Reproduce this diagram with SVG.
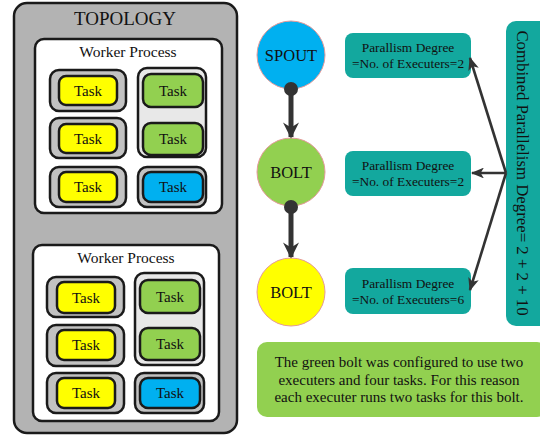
<svg xmlns="http://www.w3.org/2000/svg" width="540" height="437" viewBox="0 0 540 437">
<defs>
<style>
text{font-family:Liberation Serif,DejaVu Serif,serif;fill:#111;}
.topo{fill:#b3b3b3;stroke:#1a1a1a;stroke-width:2.5;}
.wp{fill:#fff;stroke:#1a1a1a;stroke-width:2.5;}
.ex{fill:#c2c2c2;stroke:#1a1a1a;stroke-width:2.5;}
.exg{fill:#e8e8e8;stroke:#1a1a1a;stroke-width:2.5;}
.task{stroke:#1a1a1a;stroke-width:2.5;}
.y{fill:#ffff00;}
.g{fill:#92d050;}
.b{fill:#00b0f0;}
.tt{font-size:15px;text-anchor:middle;}
.teal{fill:#13a89e;}
.pd{font-size:13.4px;text-anchor:middle;}
.circ{stroke:#e49a9a;stroke-width:1;}
.flow{stroke:#333;stroke-width:5;fill:none;}
.par{stroke:#333;stroke-width:2.6;fill:none;}
.wpt{font-size:15.5px;text-anchor:middle;}
.nt{font-size:15px;text-anchor:middle;}
</style>
<marker id="bigArrow" viewBox="0 0 10 10" refX="9" refY="5" markerWidth="3.6" markerHeight="3.2" orient="auto" markerUnits="strokeWidth">
<path d="M0,0 L10,5 L0,10 L3,5 z" fill="#333"/>
</marker>
<marker id="thinArrow" viewBox="0 0 12 10" refX="11" refY="5" markerWidth="5" markerHeight="4.2" orient="auto" markerUnits="strokeWidth">
<path d="M0,0 L12,5 L0,10 L3,5 z" fill="#333"/>
</marker>
</defs>

<g id="topology">
<rect class="topo" x="14" y="3" width="223" height="430" rx="13"/>
<text x="125" y="25" font-size="19" text-anchor="middle">TOPOLOGY</text>
</g>

<g id="worker1">
<rect class="wp" x="35" y="39" width="187" height="174" rx="9"/>
<text class="wpt" x="128" y="57">Worker Process</text>
<g id="w1-ex1"><rect class="ex" x="50" y="70" width="76" height="41" rx="9"/><rect class="task y" x="59" y="76" width="58" height="29" rx="7"/><text class="tt" x="88" y="96">Task</text></g>
<g id="w1-ex2"><rect class="ex" x="50" y="118" width="76" height="40" rx="9"/><rect class="task y" x="59" y="124" width="58" height="29" rx="7"/><text class="tt" x="88" y="144">Task</text></g>
<g id="w1-ex3"><rect class="ex" x="50" y="167" width="76" height="40" rx="9"/><rect class="task y" x="59" y="172" width="58" height="30" rx="7"/><text class="tt" x="88" y="192">Task</text></g>
<g id="w1-ex4"><rect class="exg" x="138" y="68" width="68" height="89" rx="9"/><rect class="task g" x="143" y="74" width="60" height="33" rx="8"/><text class="tt" x="173" y="96">Task</text><rect class="task g" x="143" y="123" width="60" height="32" rx="8"/><text class="tt" x="173" y="144">Task</text></g>
<g id="w1-ex5"><rect class="ex" x="138" y="167" width="68" height="40" rx="9"/><rect class="task b" x="143" y="172" width="60" height="30" rx="8"/><text class="tt" x="173" y="192">Task</text></g>
</g>

<g id="worker2">
<rect class="wp" x="33" y="245" width="186" height="176" rx="9"/>
<text class="wpt" x="126" y="263">Worker Process</text>
<g id="w2-ex1"><rect class="ex" x="47" y="277" width="77" height="40" rx="9"/><rect class="task y" x="57" y="282" width="58" height="31" rx="7"/><text class="tt" x="86" y="303">Task</text></g>
<g id="w2-ex2"><rect class="ex" x="47" y="325" width="77" height="41" rx="9"/><rect class="task y" x="57" y="330" width="58" height="30" rx="7"/><text class="tt" x="86" y="350">Task</text></g>
<g id="w2-ex3"><rect class="ex" x="47" y="373" width="77" height="40" rx="9"/><rect class="task y" x="57" y="378" width="58" height="30" rx="7"/><text class="tt" x="86" y="398">Task</text></g>
<g id="w2-ex4"><rect class="exg" x="135" y="273" width="69" height="92" rx="9"/><rect class="task g" x="140" y="280" width="60" height="33" rx="8"/><text class="tt" x="170" y="302">Task</text><rect class="task g" x="140" y="328" width="60" height="32" rx="8"/><text class="tt" x="170" y="349">Task</text></g>
<g id="w2-ex5"><rect class="ex" x="135" y="373" width="69" height="40" rx="9"/><rect class="task b" x="140" y="378" width="60" height="30" rx="8"/><text class="tt" x="170" y="398">Task</text></g>
</g>

<g id="spout">
<circle class="circ b" cx="291" cy="55" r="34"/>
<text x="291" y="61" font-size="16.5" text-anchor="middle">SPOUT</text>
</g>
<g id="bolt-green">
<circle class="circ g" cx="291" cy="172" r="34"/>
<text x="291" y="178" font-size="16.5" text-anchor="middle">BOLT</text>
</g>
<g id="bolt-yellow">
<circle class="circ y" cx="291" cy="292" r="34"/>
<text x="291" y="298" font-size="16.5" text-anchor="middle">BOLT</text>
</g>

<g id="pd1">
<rect class="teal" x="345" y="33" width="126" height="45" rx="8"/>
<text class="pd" x="408" y="52">Parallism Degree</text>
<text class="pd" x="408" y="68">=No. of Executers=2</text>
</g>
<g id="pd2">
<rect class="teal" x="345" y="151" width="126" height="45" rx="8"/>
<text class="pd" x="408" y="170">Parallism Degree</text>
<text class="pd" x="408" y="186">=No. of Executers=2</text>
</g>
<g id="pd3">
<rect class="teal" x="345" y="268" width="126" height="46" rx="8"/>
<text class="pd" x="408" y="288">Parallism Degree</text>
<text class="pd" x="408" y="304">=No. of Executers=6</text>
</g>

<g id="combined">
<rect class="teal" x="506" y="21" width="48" height="305" rx="10"/>
<text transform="translate(517,173) rotate(90)" font-size="16.8" text-anchor="middle">Combined Parallelism Degree= 2 + 2 + 10</text>
</g>

<g id="note">
<rect x="257" y="342" width="290" height="75" rx="10" fill="#92d050"/>
<text class="nt" x="399" y="367">The green bolt was configured to use two</text>
<text class="nt" x="399" y="385">executers and four tasks. For this reason</text>
<text class="nt" x="399" y="402">each executer runs two tasks for this bolt.</text>
</g>

<g id="connectors">
<circle cx="291" cy="89" r="7" fill="#333"/>
<line class="flow" x1="291" y1="89" x2="291" y2="137" marker-end="url(#bigArrow)"/>
<circle cx="291" cy="207" r="7" fill="#333"/>
<line class="flow" x1="291" y1="207" x2="291" y2="257" marker-end="url(#bigArrow)"/>
<line class="par" x1="506" y1="173" x2="470" y2="58" marker-end="url(#thinArrow)"/>
<line class="par" x1="506" y1="173" x2="472" y2="173" marker-end="url(#thinArrow)"/>
<line class="par" x1="506" y1="173" x2="470" y2="290" marker-end="url(#thinArrow)"/>
</g>
</svg>
